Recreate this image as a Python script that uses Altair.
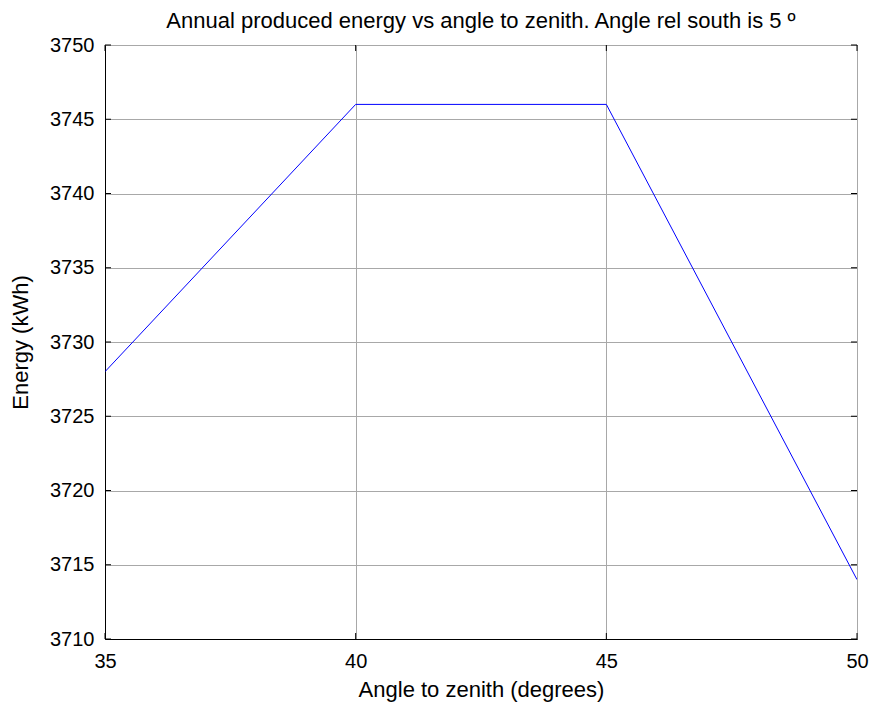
import altair as alt
import pandas as pd

angles = [35, 40, 45, 50]
energy = [3728, 3746, 3746, 3714]
x_ticks = [35, 40, 45, 50]
y_ticks = [3710, 3715, 3720, 3725, 3730, 3735, 3740, 3745, 3750]

df = pd.DataFrame({"angle": angles, "energy": energy})
xt = pd.DataFrame({"angle": x_ticks})
yt = pd.DataFrame({"energy": y_ticks})

FONT = "Liberation Sans"
W, H = 752, 594
TL = 6  # inward tick length (px)

xscale = alt.Scale(domain=[35, 50], nice=False, zero=False)
yscale = alt.Scale(domain=[3710, 3750], nice=False, zero=False)

line = (
    alt.Chart(df)
    .mark_line(color="#0000FF", strokeWidth=1, clip=True)
    .encode(
        x=alt.X(
            "angle:Q",
            scale=xscale,
            axis=alt.Axis(
                values=x_ticks,
                title="Angle to zenith (degrees)",
                grid=True,
                gridColor="#a8a8a8",
                gridWidth=1,
                ticks=False,
                labelPadding=12,
                titlePadding=8,
                domainColor="black",
                labelFlush=False,
            ),
        ),
        y=alt.Y(
            "energy:Q",
            scale=yscale,
            axis=alt.Axis(
                values=y_ticks,
                title="Energy (kWh)",
                grid=True,
                gridColor="#a8a8a8",
                gridWidth=1,
                ticks=False,
                labelPadding=11,
                titlePadding=17,
                domainColor="black",
                format="d",
                labelFlush=False,
            ),
        ),
    )
)

xb = alt.Chart(xt).mark_rule(color="black", strokeWidth=1).encode(
    x=alt.X("angle:Q", scale=xscale), y=alt.value(H), y2=alt.value(H - TL))
xtop = alt.Chart(xt).mark_rule(color="black", strokeWidth=1).encode(
    x=alt.X("angle:Q", scale=xscale), y=alt.value(0), y2=alt.value(TL))
yl = alt.Chart(yt).mark_rule(color="black", strokeWidth=1).encode(
    y=alt.Y("energy:Q", scale=yscale), x=alt.value(0), x2=alt.value(TL))
yr = alt.Chart(yt).mark_rule(color="black", strokeWidth=1).encode(
    y=alt.Y("energy:Q", scale=yscale), x=alt.value(W - TL), x2=alt.value(W))

chart = (
    alt.layer(line, xb, xtop, yl, yr)
    .properties(
        width=W,
        height=H,
        title=alt.TitleParams(
            "Annual produced energy vs angle to zenith. Angle rel south is 5 º",
            font=FONT,
            fontSize=22,
            fontWeight="normal",
            color="black",
            anchor="middle",
            offset=2,
        ),
        autosize=alt.AutoSizeParams(type="none"),
        padding={"left": 105, "top": 45, "right": 16, "bottom": 65},
        background="white",
    )
    .configure_view(stroke="black", strokeWidth=1)
    .configure_axis(
        labelFont=FONT,
        labelFontSize=20,
        labelColor="black",
        titleFont=FONT,
        titleFontSize=22,
        titleFontWeight="normal",
        titleColor="black",
        domainWidth=1,
    )
)

chart.save("out.html", embed_options={"renderer": "svg", "actions": False})
